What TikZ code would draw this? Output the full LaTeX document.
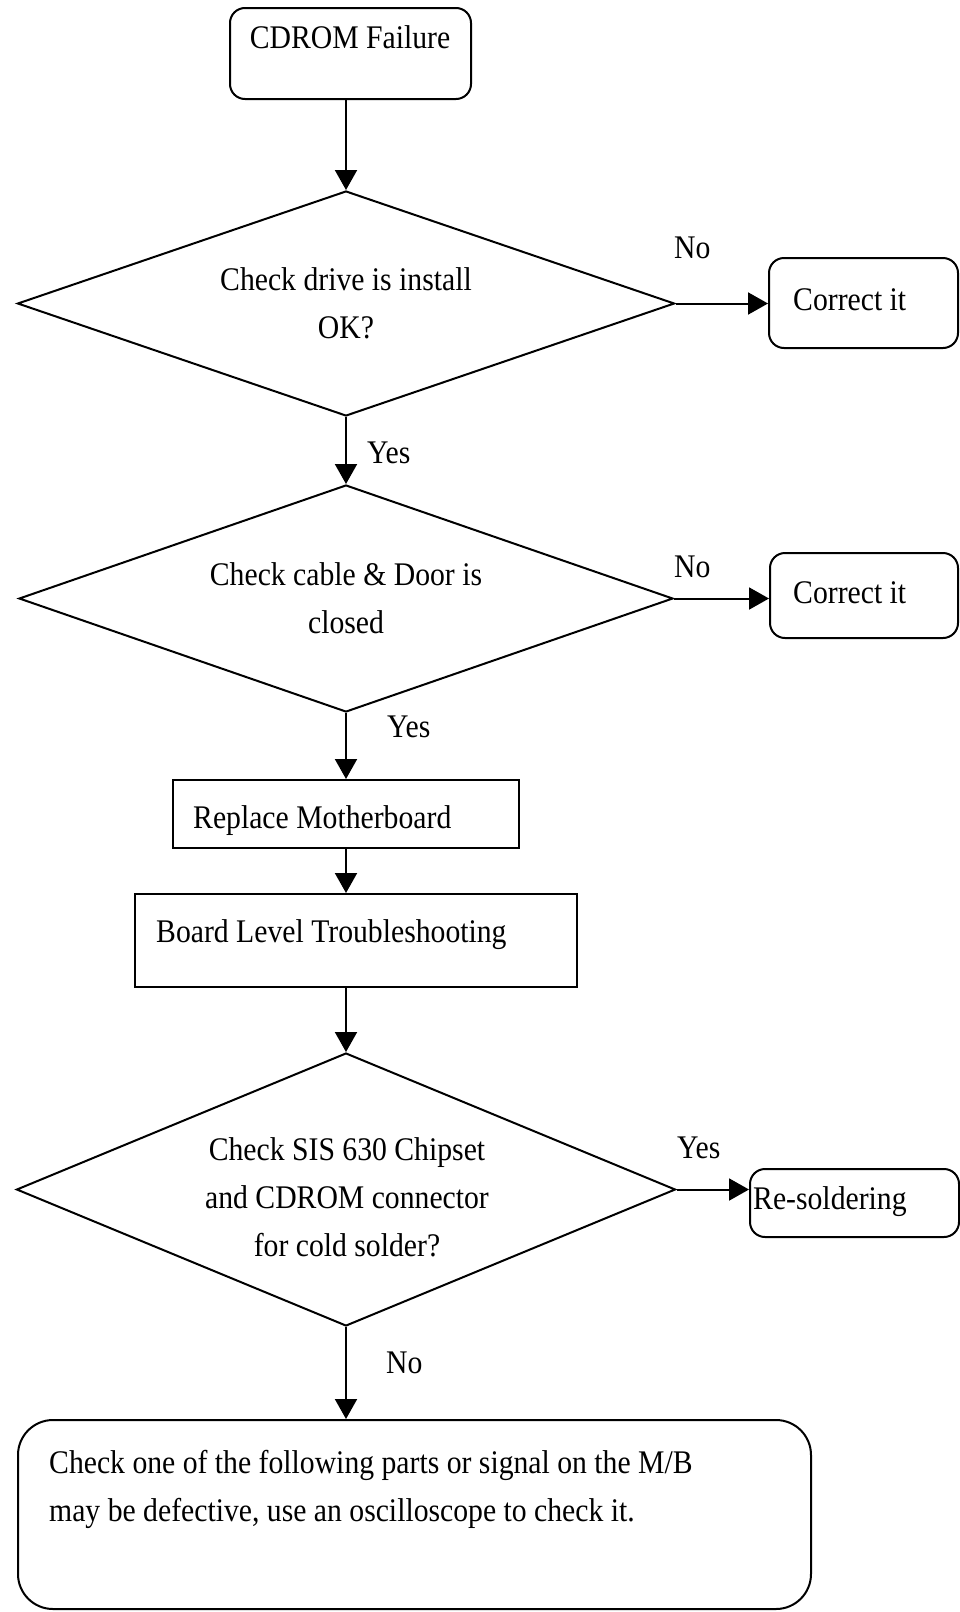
\documentclass[tikz,border=0pt]{standalone}
\usepackage{fontspec}
\setmainfont{Liberation Serif}[FakeStretch=0.9]
\usetikzlibrary{shapes.geometric,arrows.meta}
\begin{document}
\begin{tikzpicture}[x=1pt,y=-1pt,
  every node/.style={font=\fontsize{33}{48}\selectfont},
  rbox/.style={draw, line width=2pt, rounded corners=15pt, inner sep=0pt},
  sbox/.style={draw, line width=2pt, inner sep=0pt},
  dia/.style={draw, diamond, line width=2pt, inner sep=0pt, align=center},
  txt/.style={anchor=base west, inner sep=0pt},
  ctxt/.style={anchor=base, inner sep=0pt},
  arr/.style={line width=2pt, -{Triangle[length=20pt,width=22pt]}}]
\useasboundingbox (0,0) rectangle (960,1612);

% shapes
\node[rbox, minimum width=241pt, minimum height=91pt] (start) at (350.5,53.5) {};
\node[dia, minimum width=657pt, minimum height=225pt, shape aspect=2.92] (d1) at (346,303.5) {Check drive is install\\OK?};
\node[rbox, minimum width=189pt, minimum height=90pt] (c1) at (863.5,303) {};
\node[dia, minimum width=654pt, minimum height=227pt, shape aspect=2.88] (d2) at (346,598.5) {Check cable \& Door is\\closed};
\node[rbox, minimum width=188pt, minimum height=85pt] (c2) at (864,595.5) {};
\node[sbox, minimum width=346pt, minimum height=68pt] (rep) at (346,814) {};
\node[sbox, minimum width=442pt, minimum height=93pt] (blt) at (356,940.5) {};
\node[dia, minimum width=659pt, minimum height=273pt, shape aspect=2.41] (d3) at (346,1189.5) {};
\node[rbox, minimum width=209pt, minimum height=68pt] (rs) at (854.5,1203) {};
\node[rbox, rounded corners=35pt, minimum width=793pt, minimum height=189pt] (fin) at (414.5,1514.5) {};

% texts
\node[ctxt] (startT) at (350,48) {CDROM Failure};
\node[txt] (c1T) at (793,310) {Correct it};
\node[txt] (c2T) at (793,603) {Correct it};
\node[txt] (repT) at (193,828) {Replace Motherboard};
\node[txt] (bltT) at (156,942) {Board Level Troubleshooting};
\node[align=center, inner sep=0pt] (d3T) at (347,1197) {Check SIS 630 Chipset\\and CDROM connector\\for cold solder?};
\node[txt] (rsT) at (753,1209) {Re-soldering};
\node[txt] (finT1) at (49,1473) {Check one of the following parts or signal on the M/B};
\node[txt] (finT2) at (49,1521) {may be defective, use an oscilloscope to check it.};

% labels
\node[txt] (no1) at (674,258) {No};
\node[txt] (yes1) at (367,463) {Yes};
\node[txt] (no2) at (674,577) {No};
\node[txt] (yes2) at (387,737) {Yes};
\node[txt] (yes3) at (677,1158) {Yes};
\node[txt] (no3) at (386,1373) {No};

% connectors
\draw[arr] (d1.north |- start.south) -- (d1.north);
\draw[arr] (d1.east) -- (d1.east -| c1.west);
\draw[arr] (d1.south) -- (d2.north);
\draw[arr] (d2.east) -- (d2.east -| c2.west);
\draw[arr] (d2.south) -- (d2.south |- rep.north);
\draw[arr] (d2.south |- rep.south) -- (d2.south |- blt.north);
\draw[arr] (d2.south |- blt.south) -- (d3.north);
\draw[arr] (d3.east) -- (d3.east -| rs.west);
\draw[arr] (d3.south) -- (d3.south |- fin.north);
\end{tikzpicture}
\end{document}
